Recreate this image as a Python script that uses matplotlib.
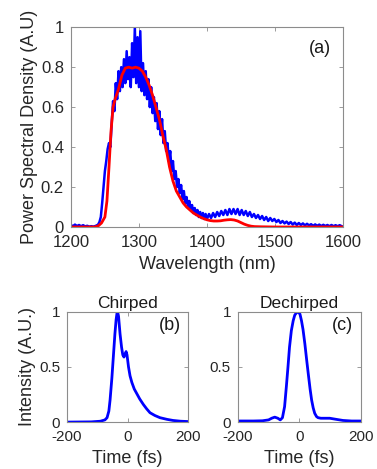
import numpy as np
import matplotlib
matplotlib.use("Agg")
import matplotlib.pyplot as plt

plt.rcParams['font.family'] = ['Liberation Sans', 'DejaVu Sans']
plt.rcParams['axes.unicode_minus'] = False

# ---------------- data ----------------
# measured spectrum (blue), noisy
blue_wl = np.concatenate([np.arange(1200, 1236, 3), np.arange(1236, 1402, 2), np.arange(1403, 1601, 3)])
blue_psd = [
    0.010, 0.004, 0.012, 0.005, 0.010, 0.004, 0.009, 0.003, 0.006, 0.002, 0.004, 0.002,
    # 1236..1400 step 2
    0.005, 0.008, 0.012, 0.025, 0.050, 0.120, 0.200, 0.280, 0.330, 0.390, 0.420, 0.400,
    0.520, 0.630, 0.580, 0.720, 0.640, 0.780, 0.680, 0.800, 0.700, 0.840, 0.720, 0.880,
    0.740, 0.850, 0.700, 0.920, 0.750, 1.000, 0.720, 0.950, 0.700, 0.980, 0.680, 0.820,
    0.660, 0.780, 0.640, 0.740, 0.600, 0.700, 0.570, 0.650, 0.530, 0.620, 0.490, 0.580,
    0.460, 0.540, 0.420, 0.480, 0.380, 0.420, 0.330, 0.380, 0.280, 0.330, 0.240, 0.280,
    0.200, 0.240, 0.170, 0.210, 0.140, 0.180, 0.120, 0.150, 0.100, 0.130, 0.085, 0.110,
    0.070, 0.095, 0.060, 0.085, 0.050, 0.075, 0.045, 0.070, 0.040, 0.065, 0.040,
    # 1403..1600 step 3
    0.065, 0.045, 0.070, 0.050, 0.075, 0.055, 0.080, 0.060, 0.085, 0.060, 0.090, 0.065,
    0.090, 0.065, 0.090, 0.060, 0.085, 0.060, 0.080, 0.055, 0.075, 0.050, 0.065, 0.045,
    0.060, 0.040, 0.055, 0.035, 0.050, 0.030, 0.045, 0.030, 0.040, 0.025, 0.035, 0.020,
    0.030, 0.018, 0.027, 0.015, 0.025, 0.012, 0.022, 0.010, 0.020, 0.010, 0.018, 0.008,
    0.016, 0.008, 0.014, 0.006, 0.013, 0.006, 0.012, 0.005, 0.011, 0.005, 0.010, 0.004,
    0.010, 0.004, 0.009, 0.004, 0.009, 0.004,
]

# simulated spectrum (red)
red_wl = [1200, 1235, 1240, 1245, 1250, 1253, 1256, 1259, 1262, 1265, 1270, 1275, 1280,
          1285, 1290, 1295, 1300, 1305, 1310, 1315, 1320, 1325, 1330, 1335, 1340, 1345,
          1350, 1355, 1360, 1365, 1370, 1375, 1380, 1385, 1390, 1395, 1400, 1405, 1410,
          1415, 1420, 1425, 1430, 1435, 1440, 1445, 1450, 1455, 1460, 1465, 1470, 1480,
          1500, 1600]
red_psd = [0.0, 0.0, 0.005, 0.02, 0.05, 0.13, 0.30, 0.48, 0.60, 0.64, 0.69, 0.76, 0.795,
           0.80, 0.795, 0.80, 0.795, 0.78, 0.75, 0.71, 0.66, 0.60, 0.54, 0.46, 0.39, 0.30,
           0.23, 0.18, 0.15, 0.12, 0.10, 0.085, 0.07, 0.06, 0.05, 0.042, 0.036, 0.032,
           0.030, 0.030, 0.031, 0.034, 0.036, 0.037, 0.035, 0.030, 0.022, 0.014, 0.008,
           0.004, 0.002, 0.001, 0.0, 0.0]

# chirped pulse
chirp_t = [-200, -120, -90, -75, -68, -62, -58, -52, -47, -42, -38, -35, -33, -30, -25,
           -20, -16, -12, -8, -5, -2, 3, 8, 14, 22, 30, 40, 52, 63, 74, 90, 107, 130,
           150, 175, 200]
chirp_i = [0.0, 0.002, 0.008, 0.02, 0.04, 0.10, 0.20, 0.40, 0.60, 0.80, 0.93, 0.99, 1.0,
           0.96, 0.80, 0.68, 0.61, 0.59, 0.62, 0.64, 0.61, 0.50, 0.42, 0.36, 0.30, 0.26,
           0.21, 0.16, 0.12, 0.085, 0.06, 0.04, 0.025, 0.015, 0.008, 0.005]

# dechirped pulse
dech_t = [-200, -150, -120, -100, -90, -80, -70, -62, -55, -48, -42, -37, -32, -26, -20,
          -15, -10, -4, 2, 7, 12, 18, 24, 29, 35, 40, 45, 50, 56, 61, 70, 80, 99, 120,
          142, 170, 200]
dech_i = [0.01, 0.01, 0.012, 0.02, 0.035, 0.045, 0.035, 0.02, 0.04, 0.14, 0.33, 0.50,
          0.68, 0.83, 0.92, 0.97, 0.99, 1.0, 0.98, 0.92, 0.84, 0.71, 0.56, 0.44, 0.30,
          0.20, 0.13, 0.08, 0.05, 0.04, 0.035, 0.035, 0.035, 0.025, 0.015, 0.01, 0.01]

wl_ticks = [1200, 1300, 1400, 1500, 1600]
psd_ticks = [0, 0.2, 0.4, 0.6, 0.8, 1]
psd_labels = ['0', '0.2', '0.4', '0.6', '0.8', '1']
t_ticks = [-200, 0, 200]
i_ticks = [0, 0.5, 1]
i_labels = ['0', '0.5', '1']

# ---------------- plot ----------------
fig = plt.figure(figsize=(3.77, 4.69), dpi=100)
TFS_TOP = 12
TFS_BOT = 11
LFS = 13
spine_c = '#8c8c8c'
txt_c = '#262626'


def style(ax, fs):
    for s in ax.spines.values():
        s.set_color(spine_c)
        s.set_linewidth(0.8)
    ax.tick_params(direction='in', top=True, right=True, length=3, width=0.6,
                   color=spine_c, labelsize=fs, labelcolor=txt_c)
    ax.tick_params(axis='x', pad=6)
    ax.tick_params(axis='y', pad=5)


ax1 = fig.add_axes([0.188, 0.516, 0.722, 0.426])
ax1.plot(blue_wl, blue_psd, color='#0000ff', lw=1.8)
ax1.plot(red_wl, red_psd, color='#ff0000', lw=2.0)
ax1.set_xlim(1200, 1600)
ax1.set_ylim(0, 1)
ax1.set_xticks(wl_ticks)
ax1.set_yticks(psd_ticks)
ax1.set_yticklabels(psd_labels)
style(ax1, TFS_TOP)
ax1.set_xlabel('Wavelength (nm)', fontsize=LFS, color=txt_c, labelpad=4)
ax1.set_ylabel('Power Spectral Density (A.U)', fontsize=LFS, color=txt_c, labelpad=2)
ax1.text(0.915, 0.895, '(a)', transform=ax1.transAxes, ha='center', va='center',
         fontsize=13, color='#1a1a1a')

ax2 = fig.add_axes([0.178, 0.100, 0.321, 0.235])
ax2.plot(chirp_t, chirp_i, color='#0000ff', lw=2.0)
ax2.set_xlim(-200, 200)
ax2.set_ylim(0, 1)
ax2.set_xticks(t_ticks)
ax2.set_yticks(i_ticks)
ax2.set_yticklabels(i_labels)
style(ax2, TFS_BOT)
ax2.set_xlabel('Time (fs)', fontsize=LFS, color=txt_c, labelpad=4)
ax2.set_ylabel('Intensity (A.U.)', fontsize=LFS, color=txt_c, labelpad=2)
ax2.set_title('Chirped', fontsize=12.5, color='#1a1a1a', pad=3)
ax2.text(0.85, 0.88, '(b)', transform=ax2.transAxes, ha='center', va='center',
         fontsize=13, color='#1a1a1a')

ax3 = fig.add_axes([0.631, 0.100, 0.326, 0.235])
ax3.plot(dech_t, dech_i, color='#0000ff', lw=2.0)
ax3.set_xlim(-200, 200)
ax3.set_ylim(0, 1)
ax3.set_xticks(t_ticks)
ax3.set_yticks(i_ticks)
ax3.set_yticklabels(i_labels)
style(ax3, TFS_BOT)
ax3.set_xlabel('Time (fs)', fontsize=LFS, color=txt_c, labelpad=4)
ax3.set_title('Dechirped', fontsize=12.5, color='#1a1a1a', pad=3)
ax3.text(0.85, 0.88, '(c)', transform=ax3.transAxes, ha='center', va='center',
         fontsize=13, color='#1a1a1a')

fig.savefig('out.png', dpi=100)
